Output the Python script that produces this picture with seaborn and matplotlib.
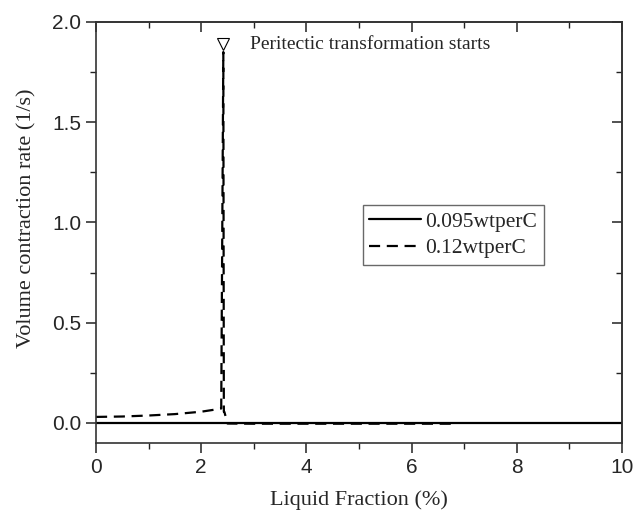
import matplotlib
matplotlib.use("Agg")
import matplotlib.pyplot as plt
from matplotlib.ticker import MultipleLocator, NullFormatter
import seaborn as sns
import pandas as pd

# ---- data ----
x_095 = [0.0, 1.0, 2.0, 3.0, 4.0, 5.0, 6.0, 7.0, 8.0, 9.0, 10.0]
y_095 = [0.002, 0.002, 0.002, 0.002, 0.002, 0.002, 0.002, 0.002, 0.002, 0.002, 0.002]

x_012 = [0.0, 0.5, 1.0, 1.5, 2.0, 2.3, 2.38, 2.42, 2.43, 2.44, 2.5, 3.0, 4.0, 5.0, 6.0, 6.75]
y_012 = [0.030, 0.032, 0.037, 0.044, 0.056, 0.068, 0.072, 1.85, 0.055, 0.055, -0.003,
         -0.004, -0.004, -0.004, -0.004, -0.004]

series_names = ["0.095wtperC", "0.12wtperC"]
x_label = "Liquid Fraction (%)"
y_label = "Volume contraction rate (1/s)"
annot_text = "Peritectic transformation starts"
annot_x, annot_y = 2.41, 1.89

df = pd.concat([
    pd.DataFrame({"x": x_095, "y": y_095, "series": series_names[0]}),
    pd.DataFrame({"x": x_012, "y": y_012, "series": series_names[1]}),
], ignore_index=True)

sns.set_style("white")
serif = ["Liberation Serif", "DejaVu Serif"]
sans = ["Liberation Sans", "DejaVu Sans"]

fig = plt.figure(figsize=(6.33, 5.13), dpi=100)
ax = fig.add_axes([0.1517, 0.1365, 0.831, 0.8207])

sns.lineplot(data=df, x="x", y="y", hue="series", style="series",
             palette={series_names[0]: "black", series_names[1]: "black"},
             dashes={series_names[0]: "", series_names[1]: (5, 3)},
             sort=False, estimator=None, linewidth=1.6, ax=ax)

ax.set_xlim(0, 10)
ax.set_ylim(-0.1, 2.0)
ax.xaxis.set_major_locator(MultipleLocator(2))
ax.xaxis.set_minor_locator(MultipleLocator(1))
ax.yaxis.set_major_locator(MultipleLocator(0.5))
ax.yaxis.set_minor_locator(MultipleLocator(0.25))

for s in ax.spines.values():
    s.set_visible(True)
    s.set_color("#333333")
    s.set_linewidth(1.2)

ax.tick_params(axis="both", which="both", bottom=True, left=True, top=False, right=False,
               direction="out", color="#222222")
ax.tick_params(axis="both", which="major", length=7, width=1.1, labelsize=15)
ax.tick_params(axis="both", which="minor", length=4, width=1.0)
for lab in ax.get_xticklabels() + ax.get_yticklabels():
    lab.set_family(sans)

# top/right ticks pointing inward, no labels
secx = ax.secondary_xaxis("top")
secx.xaxis.set_major_locator(MultipleLocator(2))
secx.xaxis.set_minor_locator(MultipleLocator(1))
secx.xaxis.set_major_formatter(NullFormatter())
secx.tick_params(axis="x", which="both", direction="in", color="#222222")
secx.tick_params(axis="x", which="major", length=7, width=1.1)
secx.tick_params(axis="x", which="minor", length=4, width=1.0)
secx.spines["top"].set_color("#333333")
secx.spines["top"].set_linewidth(1.2)

secy = ax.secondary_yaxis("right")
secy.yaxis.set_major_locator(MultipleLocator(0.5))
secy.yaxis.set_minor_locator(MultipleLocator(0.25))
secy.yaxis.set_major_formatter(NullFormatter())
secy.tick_params(axis="y", which="both", direction="in", color="#222222")
secy.tick_params(axis="y", which="major", length=7, width=1.1)
secy.tick_params(axis="y", which="minor", length=4, width=1.0)
secy.spines["right"].set_color("#333333")
secy.spines["right"].set_linewidth(1.2)

ax.set_xlabel(x_label, family=serif, fontsize=16, labelpad=10)
ax.set_ylabel(y_label, family=serif, fontsize=16)
ax.yaxis.set_label_coords(-0.114, 0.534)

ax.plot([annot_x], [annot_y], marker="v", markersize=8, markerfacecolor="white",
        markeredgecolor="black", markeredgewidth=0.8, linestyle="none")
ax.text(2.93, annot_y, annot_text, family=serif, fontsize=14, va="center", ha="left")

handles, labels = ax.get_legend_handles_labels()
leg = ax.legend(handles, labels, loc="upper left", bbox_to_anchor=(0.5076, 0.565),
                prop={"family": serif, "size": 15.5}, frameon=True, fancybox=False,
                handlelength=2.4, handletextpad=0.2, borderpad=0.3, labelspacing=0.3,
                borderaxespad=0)
leg.get_frame().set_edgecolor("#444444")
leg.get_frame().set_linewidth(1.0)

fig.savefig("out.png", dpi=100)
